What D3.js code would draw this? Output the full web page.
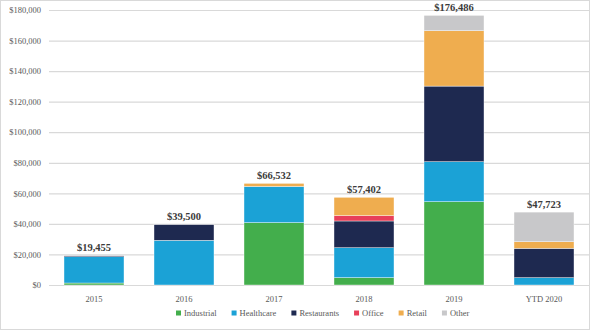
<!doctype html>
<meta charset="utf-8">

<style>
    body {
        margin: 0;
        background: #fff;
    }

    svg text {
        font-family: "Liberation Serif", "Times New Roman", serif !important;
    }
</style>

<div id="chart"></div>

<script src="https://d3js.org/d3.v7.min.js"></script>

<script>

let years = ["2015", "2016", "2017", "2018", "2019", "YTD 2020"]
let seriesNames = ["Industrial", "Healthcare", "Restaurants", "Office", "Retail", "Other"]
let seriesColors = ["#43ae4c", "#1ba2d6", "#1e2950", "#e8405a", "#efad4f", "#c8c8ca"]

let industrial  = [1300,  0,     40800, 4800,  54500, 0]
let healthcare  = [17200, 29250, 23700, 19600, 26200, 4800]
let restaurants = [700,   10250, 0,     17500, 49500, 19200]
let office      = [0,     0,     0,     3500,  0,     0]
let retail      = [0,     0,     2032,  12002, 36200, 4300]
let other       = [255,   0,     0,     0,     10086, 19423]

let totals = [19455, 39500, 66532, 57402, 176486, 47723]
let yTicks = [0, 20000, 40000, 60000, 80000, 100000, 120000, 140000, 160000, 180000]

let width = 598, height = 331
let margin = {top: 10, right: 9, bottom: 46, left: 49}
let plotWidth = 540
let plotHeight = 275
let serif = "'Liberation Serif', 'Times New Roman', serif"

// build rows for the stack from the named arrays
let seriesArrays = [industrial, healthcare, restaurants, office, retail, other]
let rows = years.map((y, i) => {
    let row = {year: y}
    seriesNames.forEach((s, j) => row[s] = seriesArrays[j][i])
    return row
})

let svg = d3.select("#chart")
    .append("svg")
    .attr("width", width)
    .attr("height", height)
    .attr("font-family", serif)

svg.append("rect")
    .attr("x", 0.5)
    .attr("y", 0.5)
    .attr("width", 589)
    .attr("height", 329)
    .attr("fill", "#fff")
    .attr("stroke", "#d9d9d9")

let plot = svg.append("g")
    .attr("transform", "translate(" + margin.left + "," + margin.top + ")")

let xScale = d3.scaleBand()
    .domain(years)
    .range([0, plotWidth])
    .paddingInner(1 / 3)
    .paddingOuter(1 / 6)

let yScale = d3.scaleLinear()
    .domain([0, 180000])
    .range([plotHeight, 0])

// gridlines and y labels
let yAxis = d3.axisLeft(yScale)
    .tickValues(yTicks)
    .tickSize(-plotWidth)
    .tickPadding(8)
    .tickFormat(d => "$" + d3.format(",")(d))

plot.append("g")
    .attr("class", "y-axis")
    .call(yAxis)
    .attr("font-family", serif)
    .attr("font-size", 8.5)
    .call(g => g.select(".domain").remove())
    .call(g => g.selectAll(".tick line").attr("stroke", "#d9d9d9").attr("stroke-width", 1.2))
    .call(g => g.selectAll(".tick text").attr("fill", "#595959"))

let xAxis = d3.axisBottom(xScale).tickSize(0).tickPadding(11)
plot.append("g")
    .attr("transform", "translate(0," + plotHeight + ")")
    .call(xAxis)
    .attr("font-family", serif)
    .attr("font-size", 8.5)
    .call(g => g.select(".domain").remove())
    .call(g => g.selectAll(".tick text").attr("fill", "#595959"))

let stack = d3.stack().keys(seriesNames)
let layers = stack(rows)

plot.selectAll("g.layer")
    .data(layers)
    .join("g")
    .attr("class", "layer")
    .attr("fill", (d, i) => seriesColors[i])
    .selectAll("rect")
    .data(d => d)
    .join("rect")
    .attr("x", d => xScale(d.data.year))
    .attr("width", xScale.bandwidth())
    .attr("y", d => yScale(d[1]))
    .attr("height", d => yScale(d[0]) - yScale(d[1]))
    .attr("stroke", "#fff")
    .attr("stroke-width", 0.4)

plot.selectAll("text.total")
    .data(totals)
    .join("text")
    .attr("class", "total")
    .attr("x", (d, i) => xScale(years[i]) + xScale.bandwidth() / 2)
    .attr("y", d => yScale(d) - 4.5)
    .attr("text-anchor", "middle")
    .attr("fill", "#3b3b3b")
    .attr("font-size", 10.5)
    .attr("font-weight", "bold")
    .text(d => "$" + d3.format(",")(d))

// legend
let legend = svg.append("g").attr("transform", "translate(176,313)")
let lx = 0
seriesNames.forEach((name, i) => {
    let item = legend.append("g").attr("transform", "translate(" + lx + ",0)")
    item.append("rect")
        .attr("x", 0)
        .attr("y", -2.5)
        .attr("width", 5)
        .attr("height", 5)
        .attr("fill", seriesColors[i])
    let t = item.append("text")
        .attr("x", 8)
        .attr("y", 3)
        .attr("fill", "#595959")
        .attr("font-size", 8.5)
        .text(name)
    lx += 8 + t.node().getComputedTextLength() + 15
})

</script>
